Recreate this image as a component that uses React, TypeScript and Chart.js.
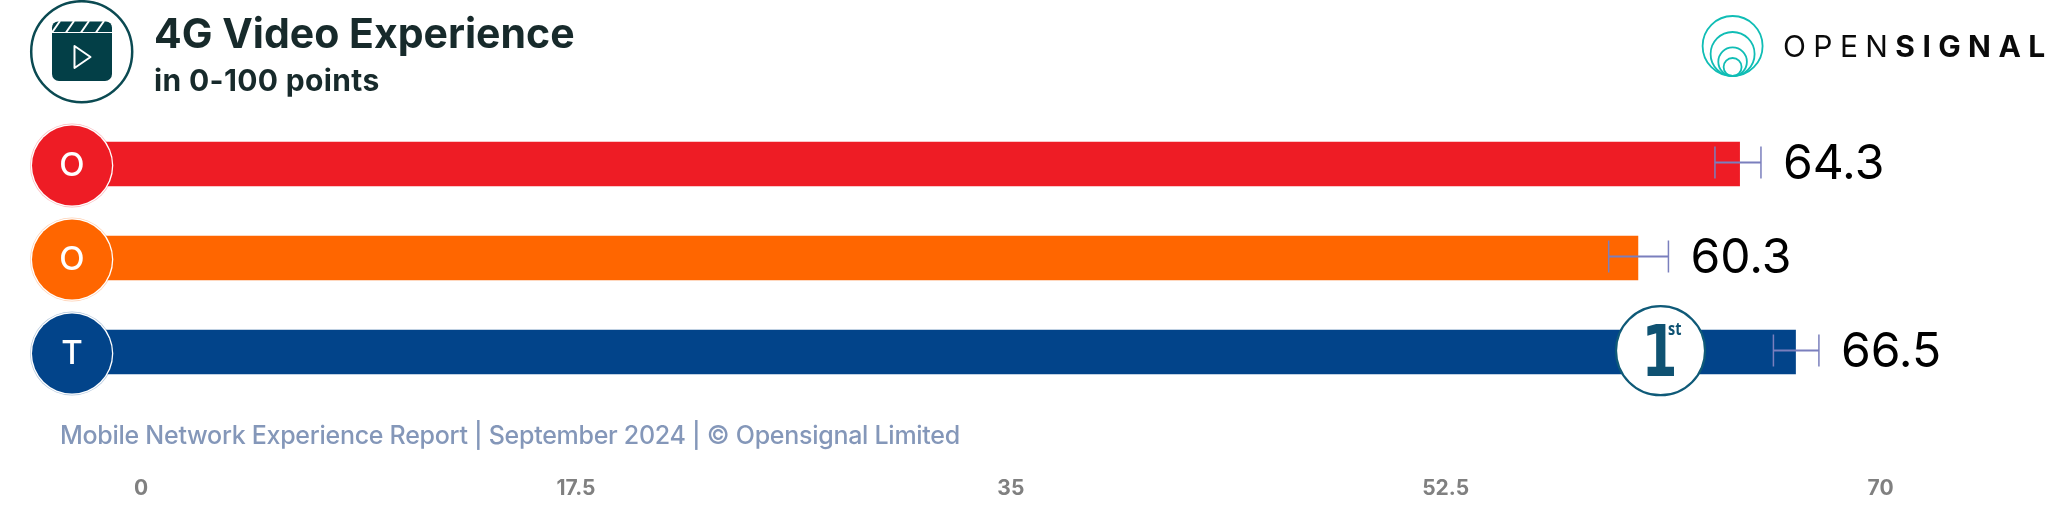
import React, { useEffect, useRef } from "react";
import { Chart, registerables } from "chart.js";

Chart.register(...registerables);

const operators = ["O", "O", "T"];
const operatorKeys = ["Operator 1", "Operator 2", "Operator 3"];
const scores = [64.3, 60.3, 66.5];
const errorLow = [63.33, 59.15, 65.63];
const errorHigh = [65.14, 61.5, 67.42];
const tickValues = [0, 17.5, 35, 52.5, 70];
const winnerIndex = 2;
const titleText = "4G Video Experience";
const subtitleText = "in 0-100 points";
const footerText = "Mobile Network Experience Report | September 2024 | © Opensignal Limited";

const barColors = ["#ee1c25", "#ff6600", "#02448a"];
const haloColors = ["rgba(238,28,37,0.3)", "rgba(255,102,0,0.3)", "rgba(2,68,138,0.3)"];
const FONT = "Inter, sans-serif";

const decor = {
  id: "decor",
  afterDatasetsDraw(chart: any) {
    const { ctx } = chart;
    const x = chart.scales.x;
    const y = chart.scales.y;
    ctx.save();

    // header icon
    ctx.strokeStyle = "#0b4a52";
    ctx.lineWidth = 2.5;
    ctx.beginPath();
    ctx.arc(81.7, 51.7, 50.5, 0, Math.PI * 2);
    ctx.stroke();
    ctx.fillStyle = "#033f47";
    ctx.beginPath();
    ctx.roundRect(52, 33, 60, 48, [0, 0, 7, 7]);
    ctx.fill();
    ctx.beginPath();
    ctx.roundRect(52, 21.5, 60, 10.5, [6, 6, 0, 0]);
    ctx.fill();
    ctx.strokeStyle = "#ffffff";
    ctx.lineWidth = 2;
    for (const sx of [58, 72, 87, 102]) {
      ctx.beginPath();
      ctx.moveTo(sx - 6, 32.5);
      ctx.lineTo(sx + 2, 21);
      ctx.stroke();
    }
    ctx.lineJoin = "round";
    ctx.beginPath();
    ctx.moveTo(74.5, 46);
    ctx.lineTo(90.5, 57);
    ctx.lineTo(74.5, 68);
    ctx.closePath();
    ctx.lineWidth = 2;
    ctx.stroke();

    // header text
    ctx.textAlign = "left";
    ctx.textBaseline = "alphabetic";
    ctx.fillStyle = "#172a2b";
    ctx.font = `700 41px ${FONT}`;
    (ctx as any).letterSpacing = "0px";
    ctx.fillText(titleText, 154, 48);
    ctx.font = `700 30px ${FONT}`;
    (ctx as any).letterSpacing = "0.35px";
    ctx.fillText(subtitleText, 154, 90.5);

    // logo
    ctx.strokeStyle = "#10bdb5";
    ctx.lineWidth = 1.8;
    for (const r of [30, 22, 14.3, 9]) {
      ctx.beginPath();
      ctx.arc(1732.6, 76 - r, r, 0, Math.PI * 2);
      ctx.stroke();
    }
    ctx.fillStyle = "#0a0a0a";
    ctx.font = `400 30px ${FONT}`;
    (ctx as any).letterSpacing = "7.4px";
    ctx.fillText("OPEN", 1783, 57);
    const openW = ctx.measureText("OPEN").width;
    ctx.font = `700 30px ${FONT}`;
    ctx.fillText("SIGNAL", 1783 + openW, 57);
    (ctx as any).letterSpacing = "0px";

    scores.forEach((v, i) => {
      const cy = y.getPixelForValue(i);
      const end = x.getPixelForValue(errorHigh[i]);
      const start = x.getPixelForValue(errorLow[i]);

      // operator circle
      ctx.beginPath();
      ctx.arc(72, cy + 1.5, 42, 0, Math.PI * 2);
      ctx.fillStyle = haloColors[i];
      ctx.fill();
      ctx.beginPath();
      ctx.arc(72, cy + 1.5, 41.3, 0, Math.PI * 2);
      ctx.fillStyle = "#ffffff";
      ctx.fill();
      ctx.beginPath();
      ctx.arc(72, cy + 1.5, 40, 0, Math.PI * 2);
      ctx.fillStyle = barColors[i];
      ctx.fill();
      ctx.fillStyle = "#ffffff";
      ctx.font = `500 33px ${FONT}`;
      ctx.textAlign = "center";
      ctx.textBaseline = "alphabetic";
      ctx.fillText(operators[i], 72, cy + 12);

      // error bar
      ctx.strokeStyle = "#7a7fbd";
      ctx.lineWidth = 2;
      const ey = cy - 1.5;
      ctx.beginPath();
      ctx.moveTo(start, ey);
      ctx.lineTo(end, ey);
      ctx.stroke();
      ctx.lineWidth = 1.5;
      for (const px of [start, end]) {
        ctx.beginPath();
        ctx.moveTo(px, ey - 16);
        ctx.lineTo(px, ey + 16);
        ctx.stroke();
      }

      // value label
      ctx.fillStyle = "#000000";
      ctx.font = `400 48px ${FONT}`;
      ctx.textAlign = "left";
      ctx.fillText(v.toFixed(1), end + 22, cy + 15);
    });

    // rank badge
    const by = y.getPixelForValue(winnerIndex) - 1.3;
    const bx = x.getPixelForValue(scores[winnerIndex]) - 135;
    ctx.beginPath();
    ctx.arc(bx, by, 44.5, 0, Math.PI * 2);
    ctx.fillStyle = "#ffffff";
    ctx.fill();
    ctx.strokeStyle = "#0f5a78";
    ctx.lineWidth = 2.2;
    ctx.stroke();
    ctx.fillStyle = "#0f5272";
    ctx.textAlign = "left";
    ctx.save();
    ctx.translate(bx - 19, by + 25.5);
    ctx.scale(0.72, 1);
    ctx.font = "700 72px 'DejaVu Sans'";
    ctx.fillText("1", 0, 0);
    ctx.restore();
    ctx.save();
    ctx.translate(bx + 7.5, by - 16);
    ctx.scale(0.8, 1);
    ctx.font = "700 18px 'Open Sans'";
    ctx.fillText("st", 0, 0);
    ctx.restore();

    // footer
    ctx.fillStyle = "#8497b9";
    ctx.font = `500 25px ${FONT}`;
    (ctx as any).letterSpacing = "-0.28px";
    ctx.textAlign = "left";
    ctx.fillText(footerText, 60, 444);
    (ctx as any).letterSpacing = "0px";
    ctx.restore();
  },
};

export default function App() {
  const ref = useRef<HTMLCanvasElement | null>(null);
  useEffect(() => {
    document.body.style.margin = "0";
    document.body.style.background = "#ffffff";
    const chart = new Chart(ref.current as HTMLCanvasElement, {
      type: "bar",
      data: {
        labels: operatorKeys,
        datasets: [
          {
            data: scores,
            backgroundColor: barColors,
            barThickness: 44,
            xAxisID: "x",
            yAxisID: "y",
          },
        ],
      },
      options: {
        indexAxis: "y",
        animation: false,
        responsive: false,
        devicePixelRatio: 1,
        layout: { padding: { left: 105.1, right: 183.5, top: 117, bottom: 0 } },
        plugins: { legend: { display: false }, tooltip: { enabled: false }, title: { display: false } },
        scales: {
          x: { type: "linear", min: 0, max: 70, display: false },
          // Tick labels of the reference sit on their own, slightly narrower run.
          xTicks: {
            type: "linear",
            position: "bottom",
            min: -1.45,
            max: 70.16,
            grid: { display: false },
            border: { display: false },
            afterBuildTicks: (s: any) => {
              s.ticks = tickValues.map((value) => ({ value }));
            },
            afterFit: (s: any) => {
              s.height = 117;
            },
            ticks: {
              autoSkip: false,
              maxRotation: 0,
              padding: 69,
              color: "#808080",
              font: { family: "Inter", size: 21, weight: 700 },
              callback: (v: any) => String(v),
            },
          },
          y: { type: "category", display: false, offset: true },
        },
      } as any,
      plugins: [decor],
    });
    return () => chart.destroy();
  }, []);
  return (
    <div style={{ position: "absolute", left: 0, top: 0, width: 2068, height: 516 }}>
      <canvas ref={ref} width={2068} height={516} style={{ display: "block" }} />
    </div>
  );
}
